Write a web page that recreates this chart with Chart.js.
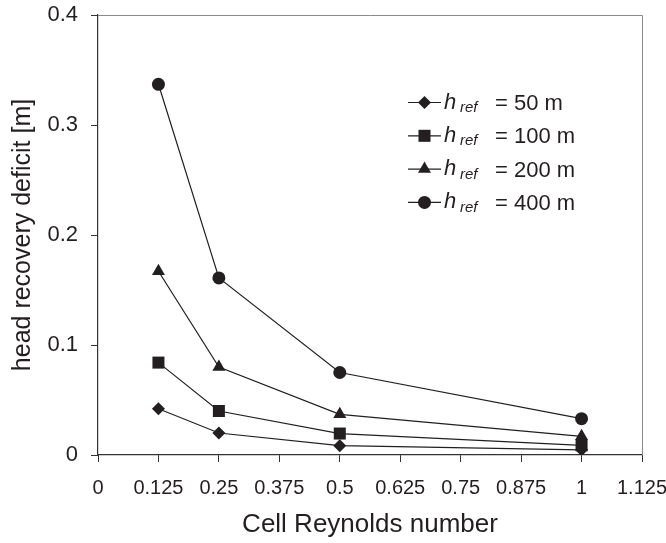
<!DOCTYPE html>
<html>
<head>
<meta charset="utf-8">
<script src="https://cdn.jsdelivr.net/npm/chart.js@4"></script>
<style>
  html, body { margin: 0; padding: 0; background: #fff; }
  #wrap { width: 666px; height: 543px; }
</style>
</head>
<body>
<div id="wrap"><canvas id="chart" width="666" height="543"></canvas></div>
<script>
// cell Reynolds number on x, head recovery deficit [m] on y
const reynolds = [0.125, 0.25, 0.5, 1];
const href50 = [0.042, 0.020, 0.0085, 0.0047];
const href100 = [0.084, 0.040, 0.0195, 0.0088];
const href200 = [0.167, 0.080, 0.037, 0.017];
const href400 = [0.337, 0.161, 0.075, 0.033];
const seriesLabels = ["50 m", "100 m", "200 m", "400 m"];

const ink = "#231f20";
const fontFamily = "'Liberation Sans', Arial, sans-serif";

function pts(ys) {
    return reynolds.map((x, i) => ({x: x, y: ys[i]}));
}

const styles = [
    {pointStyle: "rectRot", radius: 6.5},
    {pointStyle: "rect", radius: 8.5},
    {pointStyle: "triangle", radius: 7.5},
    {pointStyle: "circle", radius: 6.5}
];
const values = [href50, href100, href200, href400];

const datasets = values.map(function(v, i) {
    return {
        label: seriesLabels[i],
        data: pts(v),
        showLine: true,
        borderColor: ink,
        borderWidth: 1.2,
        backgroundColor: ink,
        pointBackgroundColor: ink,
        pointBorderColor: ink,
        pointBorderWidth: 0,
        pointStyle: styles[i].pointStyle,
        pointRadius: styles[i].radius,
        pointHoverRadius: styles[i].radius
    };
});

// frame on top and right of the plot area
const frame = {
    id: "frame",
    beforeDatasetsDraw(chart) {
        const a = chart.chartArea, ctx = chart.ctx;
        ctx.save();
        ctx.strokeStyle = "#8a8a8a";
        ctx.lineWidth = 1;
        ctx.beginPath();
        ctx.moveTo(a.left, a.top + 0.5);
        ctx.lineTo(a.right + 0.5, a.top + 0.5);
        ctx.lineTo(a.right + 0.5, a.bottom);
        ctx.stroke();
        ctx.restore();
    }
};

// legend with italic h and subscript "ref"
const refLegend = {
    id: "refLegend",
    afterDatasetsDraw(chart) {
        const a = chart.chartArea, ctx = chart.ctx;
        const x0 = a.left + 310;
        ctx.save();
        datasets.forEach(function(ds, i) {
            const y = a.top + 87.5 + i * 33.3;
            ctx.strokeStyle = ink;
            ctx.lineWidth = 1.2;
            ctx.beginPath();
            ctx.moveTo(x0, y);
            ctx.lineTo(x0 + 33, y);
            ctx.stroke();
            ctx.fillStyle = ink;
            Chart.helpers.drawPoint(ctx, {
                pointStyle: styles[i].pointStyle,
                radius: styles[i].radius,
                rotation: 0,
                borderWidth: 0
            }, x0 + 16.5, y);
            ctx.fillStyle = ink;
            ctx.textBaseline = "alphabetic";
            ctx.textAlign = "left";
            ctx.font = "italic 22px " + fontFamily;
            ctx.fillText("h", x0 + 36, y + 6);
            ctx.font = "italic 15px " + fontFamily;
            ctx.fillText("ref", x0 + 52, y + 9.5);
            ctx.font = "22px " + fontFamily;
            ctx.fillText("= " + ds.label, x0 + 87, y + 7.5);
        });
        ctx.restore();
    }
};

// keep the plot box fixed; labels may hang into the margins
function noPad(scale) {
    scale.paddingTop = 0;
    scale.paddingBottom = 0;
    scale.paddingLeft = 0;
    scale.paddingRight = 0;
}

new Chart(document.getElementById("chart"), {
    type: "scatter",
    data: {datasets: datasets},
    plugins: [frame, refLegend],
    options: {
        responsive: false,
        animation: false,
        events: [],
        layout: {padding: {top: 15, right: 24, left: 0, bottom: 0}},
        plugins: {
            legend: {display: false},
            tooltip: {enabled: false}
        },
        scales: {
            x: {
                type: "linear",
                min: 0,
                max: 1.125,
                afterFit: function(scale) { scale.height = 88; noPad(scale); },
                ticks: {
                    stepSize: 0.125,
                    autoSkip: false,
                    maxRotation: 0,
                    padding: 14,
                    color: ink,
                    font: {family: fontFamily, size: 20},
                    callback: function(v) { return String(Math.round(v * 1000) / 1000); }
                },
                grid: {display: true, drawOnChartArea: false, drawTicks: true, tickLength: 7, tickColor: "#333"},
                border: {display: true, color: "#333", width: 1.2},
                title: {
                    display: true,
                    text: "Cell Reynolds number",
                    color: ink,
                    font: {family: fontFamily, size: 26},
                    padding: {top: 0, bottom: 3}
                }
            },
            y: {
                min: 0,
                max: 0.4,
                afterFit: function(scale) { scale.width = 98; noPad(scale); },
                ticks: {
                    stepSize: 0.1,
                    padding: 13,
                    color: ink,
                    font: {family: fontFamily, size: 22},
                    callback: function(v) { return String(Math.round(v * 10) / 10); }
                },
                grid: {display: true, drawOnChartArea: false, drawTicks: true, tickLength: 7, tickColor: "#333"},
                border: {display: true, color: "#333", width: 1.2},
                title: {
                    display: true,
                    text: "head recovery deficit [m]",
                    color: ink,
                    font: {family: fontFamily, size: 25},
                    padding: {top: 8, bottom: 0}
                }
            }
        }
    }
});
</script>
</body>
</html>
